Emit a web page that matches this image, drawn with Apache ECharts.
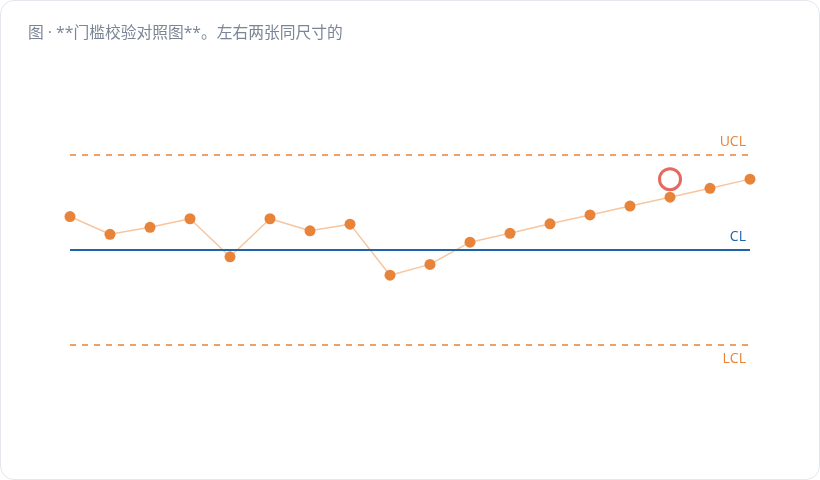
<!DOCTYPE html>
<html>
<head>
<meta charset="utf-8">
<script src="https://cdn.jsdelivr.net/npm/echarts@6/dist/echarts.min.js"></script>
<style>
  html, body { margin: 0; padding: 0; background: #ffffff; }
  #card {
    position: absolute; left: 0; top: 0;
    width: 818px; height: 478px;
    border: 1px solid #e4e7ed; border-radius: 14px;
    background: #fff; overflow: hidden;
  }
  #chart { position: absolute; left: -1px; top: -1px; width: 820px; height: 480px; }
</style>
</head>
<body>
<div id="card"><div id="chart"></div></div>
<script>
// 样本序号
var samples = ['1','2','3','4','5','6','7','8','9','10','11','12','13','14','15','16','17','18'];
// 标准化后的观测值（以 CL 为 0，σ 为单位）
var values = [1.04, 0.48, 0.70, 0.97, -0.23, 0.97, 0.59, 0.80, -0.81, -0.47, 0.23, 0.51, 0.81, 1.09, 1.37, 1.65, 1.93, 2.22];
// 控制限
var limitNames = ['UCL', 'CL', 'LCL'];
var limitValues = [3, 0, -3];
// 被标记的样本
var flaggedIndex = 15;

var orange = '#e8843a';
var blue = '#1f64a8';

var chart = echarts.init(document.getElementById('chart'));

var limitLines = limitNames.map(function (name, i) {
    var isCL = name === 'CL';
    var isLow = name === 'LCL';
    return {
        yAxis: limitValues[i],
        lineStyle: isCL
            ? { color: blue, width: 2, type: 'solid' }
            : { color: '#f0a066', width: 2, type: [6, 6] },
        label: {
            show: true,
            formatter: name,
            position: isLow ? 'insideEndBottom' : 'insideEndTop',
            color: isCL ? blue : orange,
            fontSize: 14,
            fontFamily: 'Open Sans',
            distance: isLow ? [4, 7] : [4, 5]
        }
    };
});

var flagged = values.map(function (v, i) { return i === flaggedIndex ? v : null; });

chart.setOption({
    animation: false,
    title: {
        text: '图 · **门槛校验对照图**。左右两张同尺寸的',
        left: 23,
        top: 21,
        textStyle: {
            fontFamily: "'Open Sans', 'Noto Sans CJK SC'",
            fontSize: 15.75,
            fontWeight: 'normal',
            color: '#7b8595'
        }
    },
    grid: { left: 70, right: 70, top: 91, bottom: 72 },
    xAxis: {
        type: 'category',
        data: samples,
        boundaryGap: false,
        show: false
    },
    yAxis: {
        type: 'value',
        min: -5,
        max: 5,
        show: false
    },
    series: [{
        type: 'line',
        data: values,
        symbol: 'circle',
        symbolSize: 11,
        itemStyle: { color: orange },
        lineStyle: { color: '#f6c6a0', width: 1.5 },
        markLine: {
            silent: true,
            symbol: 'none',
            data: limitLines
        },
        z: 3
    }, {
        type: 'scatter',
        data: flagged,
        symbol: 'circle',
        symbolSize: 21,
        symbolOffset: [0, -18],
        itemStyle: { color: 'transparent', borderColor: '#e0443a', borderWidth: 3 },
        z: 4
    }]
});
</script>
</body>
</html>
